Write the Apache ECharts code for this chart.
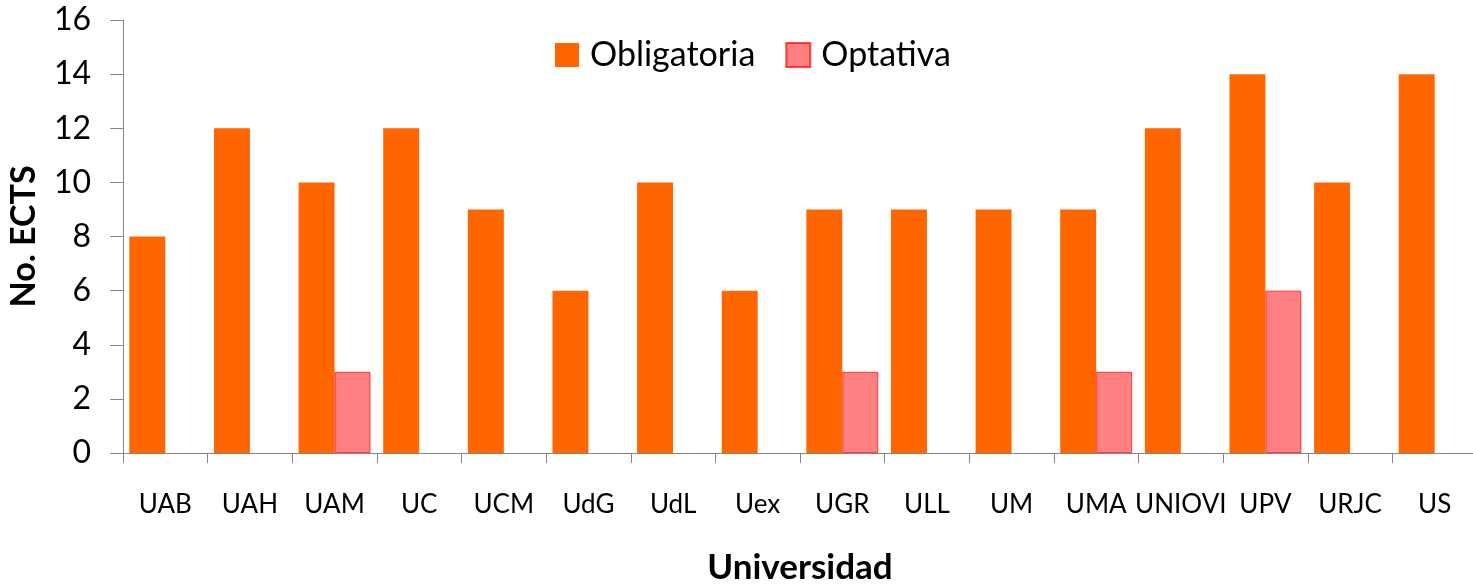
<!DOCTYPE html>
<html>
<head>
<meta charset="utf-8">
<script src="https://cdn.jsdelivr.net/npm/echarts@6/dist/echarts.min.js"></script>
<style>
  html, body { margin: 0; padding: 0; background: #fff; }
  #chart { width: 1473px; height: 586px; }
</style>
</head>
<body>
<div id="chart"></div>
<script>
const universidades = ["UAB", "UAH", "UAM", "UC", "UCM", "UdG", "UdL", "Uex", "UGR", "ULL", "UM", "UMA", "UNIOVI", "UPV", "URJC", "US"];
const obligatoria = [8, 12, 10, 12, 9, 6, 10, 6, 9, 9, 9, 9, 12, 14, 10, 14];
const optativa = [null, null, 3, null, null, null, null, null, 3, null, null, 3, null, 6, null, null];
const yTicks = [0, 2, 4, 6, 8, 10, 12, 14, 16];

const font = "Lato, 'Open Sans', sans-serif";
const axisGrey = "#868686";

const chart = echarts.init(document.getElementById("chart"), null, { renderer: "canvas" });

chart.setOption({
  animation: false,
  backgroundColor: "#ffffff",
  textStyle: { fontFamily: font, color: "#000" },
  grid: { left: 123, top: 20, bottom: 133, right: -4, containLabel: false, outerBoundsMode: "none" },
  legend: {
    top: 38,
    left: 555,
    padding: 0,
    itemWidth: 24,
    itemHeight: 24,
    itemGap: 30,
    textStyle: { fontFamily: font, fontSize: 34, color: "#000", padding: [0, 0, 0, 6] },
    data: [
      { name: "Obligatoria", icon: "rect" },
      { name: "Optativa", icon: "rect" },
    ],
  },
  xAxis: {
    type: "category",
    data: universidades,
    boundaryGap: true,
    name: "Universidad",
    nameLocation: "middle",
    nameGap: 97,
    nameTextStyle: { fontFamily: font, fontSize: 35, fontWeight: "bold", color: "#000" },
    axisLine: { lineStyle: { color: axisGrey, width: 1 } },
    axisTick: { show: true, length: 10, lineStyle: { color: axisGrey } },
    axisLabel: { fontFamily: font, fontSize: 26, color: "#000", margin: 39, interval: 0 },
    splitLine: { show: false },
  },
  yAxis: {
    type: "value",
    min: yTicks[0],
    max: yTicks[yTicks.length - 1],
    interval: 2,
    name: "No. ECTS",
    nameLocation: "middle",
    nameGap: 82,
    nameTextStyle: { fontFamily: font, fontSize: 34, fontWeight: "bold", color: "#000" },
    axisLine: { show: true, lineStyle: { color: axisGrey, width: 1 } },
    axisTick: { show: true, inside: false, length: 13, lineStyle: { color: axisGrey } },
    axisLabel: { fontFamily: font, fontSize: 32, color: "#000", margin: 32 },
    splitLine: { show: false },
  },
  series: [
    {
      name: "Obligatoria",
      type: "bar",
      data: obligatoria,
      barGap: "0%",
      barCategoryGap: "15%",
      itemStyle: { color: "#FF6600" },
    },
    {
      name: "Optativa",
      type: "bar",
      data: optativa,
      barGap: "0%",
      barCategoryGap: "15%",
      itemStyle: { color: "#FF8080", borderColor: "rgba(255,0,0,0.7)", borderWidth: 1 },
    },
  ],
});
</script>
</body>
</html>
